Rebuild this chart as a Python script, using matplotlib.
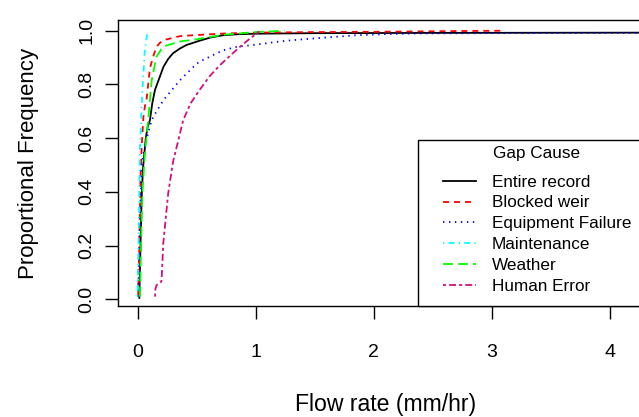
import matplotlib
matplotlib.use("Agg")
import matplotlib.pyplot as plt
from matplotlib.patches import Rectangle

plt.rcParams['font.family'] = ['Liberation Sans', 'DejaVu Sans']
plt.rcParams['lines.scale_dashes'] = False

# ECDF curves (flow rate, proportional frequency)
entire_x = [0.015, 0.025, 0.035, 0.045, 0.055, 0.07, 0.085, 0.105, 0.125, 0.148, 0.19, 0.22,
            0.26, 0.3, 0.36, 0.415, 0.527, 0.62, 0.72, 0.85, 1.0, 1.5, 2.5, 4.5]
entire_y = [0.005, 0.2, 0.38, 0.48, 0.53, 0.6, 0.64, 0.667, 0.73, 0.78, 0.83, 0.866,
            0.895, 0.916, 0.934, 0.947, 0.963, 0.975, 0.983, 0.987, 0.989, 0.991, 0.992, 0.993]

weir_x = [0.005, 0.015, 0.025, 0.035, 0.05, 0.063, 0.078, 0.105, 0.13, 0.16, 0.19, 0.22,
          0.36, 0.5, 0.75, 1.0, 1.5, 2.0, 2.5, 3.08]
weir_y = [0.01, 0.2, 0.45, 0.57, 0.68, 0.72, 0.75, 0.86, 0.9, 0.94, 0.955, 0.965,
          0.98, 0.984, 0.99, 0.993, 0.995, 0.996, 0.998, 1.0]

equip_x = [0.005, 0.015, 0.025, 0.035, 0.05, 0.063, 0.09, 0.12, 0.148, 0.22, 0.36, 0.5,
           0.55, 0.724, 0.84, 1.0, 1.17, 1.29, 1.57, 1.85, 2.13, 2.41, 3.0, 4.5]
equip_y = [0.01, 0.2, 0.35, 0.5, 0.54, 0.568, 0.62, 0.667, 0.69, 0.742, 0.816, 0.877,
           0.89, 0.927, 0.94, 0.948, 0.958, 0.964, 0.974, 0.983, 0.988, 0.99, 0.991, 0.992]

maint_x = [0.0, 0.01, 0.02, 0.028, 0.035, 0.042, 0.05, 0.06, 0.078, 0.09]
maint_y = [0.01, 0.25, 0.56, 0.64, 0.72, 0.78, 0.84, 0.92, 0.98, 1.0]

weather_x = [0.02, 0.03, 0.04, 0.047, 0.063, 0.09, 0.12, 0.16, 0.215, 0.23, 0.36, 0.5,
             0.724, 0.865, 1.0, 1.245]
weather_y = [0.01, 0.2, 0.38, 0.44, 0.544, 0.667, 0.816, 0.903, 0.94, 0.943, 0.96, 0.968,
             0.985, 0.99, 0.995, 1.0]

human_x = [0.148, 0.152, 0.162, 0.2, 0.204, 0.218, 0.26, 0.3, 0.387, 0.45, 0.527, 0.61,
           0.696, 0.78, 0.865, 0.95, 1.034]
human_y = [0.01, 0.04, 0.053, 0.065, 0.072, 0.208, 0.395, 0.51, 0.667, 0.73, 0.78, 0.83,
           0.871, 0.905, 0.939, 0.97, 0.998]

labels = ['Entire record', 'Blocked weir', 'Equipment Failure', 'Maintenance', 'Weather', 'Human Error']
x_ticks = [0, 1, 2, 3, 4]
y_ticks = [0.0, 0.2, 0.4, 0.6, 0.8, 1.0]

W, H = 639, 417
fig = plt.figure(figsize=(W / 100, H / 100), dpi=100)
ax = fig.add_axes([118.3 / W, 111 / H, (652 - 118.3) / W, 286 / H])

# R style line types: solid, dashed, dotted, dotdash, longdash, twodash
styles = [
    ('black', '-'),
    ('#FF0000', (0, (4.3, 3.6))),
    ('#0000FF', (0, (1.0, 3.3))),
    ('#00FFFF', (0, (1.0, 3.0, 4.3, 3.0))),
    ('#00FF00', (0, (7.2, 3.6))),
    ('#D0117E', (0, (2.2, 2.2, 5.0, 2.2))),
]
series = [(entire_x, entire_y), (weir_x, weir_y), (equip_x, equip_y),
          (maint_x, maint_y), (weather_x, weather_y), (human_x, human_y)]

for (xs, ys), (col, ls), lab in zip(series, styles, labels):
    ax.plot(xs, ys, color=col, linestyle=ls, lw=1.3, label=lab)

ax.set_xlim(-0.163, 4.36)
ax.set_ylim(-0.025, 1.04)
ax.set_xticks(x_ticks)
ax.set_xticklabels([str(t) for t in x_ticks])
ax.set_yticks(y_ticks)
ax.set_yticklabels(['%.1f' % t for t in y_ticks])
ax.tick_params(axis='both', direction='out', length=9.5, width=1, labelsize=14)
ax.tick_params(axis='x', pad=18)
ax.tick_params(axis='y', pad=7, labelrotation=90)
for lbl in ax.get_yticklabels():
    lbl.set_va('center')
for sp in ax.spines.values():
    sp.set_linewidth(1)

ax.set_xlabel('Flow rate (mm/hr)', fontsize=16.6, labelpad=23)
ax.set_ylabel('Proportional Frequency', fontsize=16, labelpad=28)

# legend box in the R style: white box at the bottom right, title on top
box = Rectangle((418 / W, 1 - 306 / H), (665 - 418) / W, (306 - 140) / H,
                transform=fig.transFigure, facecolor='white', edgecolor='black',
                lw=1, clip_on=False, zorder=4)
ax.add_patch(box)
ax.text(537 / W, 1 - 154 / H, 'Gap Cause', transform=fig.transFigure,
        ha='center', va='center', fontsize=12.3, zorder=6)
leg = ax.legend(loc='upper left', bbox_to_anchor=(443 / W, 1 - 174.5 / H),
                bbox_transform=fig.transFigure, borderaxespad=0, borderpad=0,
                fontsize=12.3, frameon=False, handlelength=1.93,
                handletextpad=0.94, labelspacing=0.35)
leg.set_zorder(6)

fig.savefig('out.png', dpi=100)
